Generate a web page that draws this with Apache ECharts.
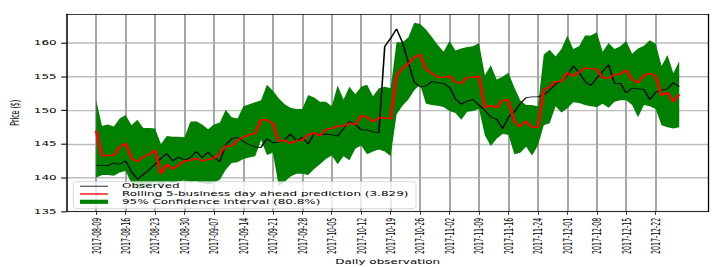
<!DOCTYPE html>
<html><head><meta charset="utf-8">
<script src="https://cdn.jsdelivr.net/npm/echarts@6/dist/echarts.min.js"></script>
<style>
html,body{margin:0;padding:0;background:#fff;overflow:hidden}
#wrap{width:719px;height:267px;overflow:hidden;position:relative;background:#fff}
#chart{width:719px;height:513px;transform:scaleY(0.5205);transform-origin:0 0;position:absolute;left:0;top:0}
</style></head>
<body><div id="wrap"><div id="chart"></div></div>
<script>
const dates = [
'2017-08-09','2017-08-10','2017-08-11','2017-08-14','2017-08-15','2017-08-16','2017-08-17','2017-08-18','2017-08-21','2017-08-22','2017-08-23','2017-08-24','2017-08-25','2017-08-28','2017-08-29','2017-08-30','2017-08-31',
'2017-09-01','2017-09-05','2017-09-06','2017-09-07','2017-09-08','2017-09-11','2017-09-12','2017-09-13','2017-09-14','2017-09-15','2017-09-18','2017-09-19','2017-09-20','2017-09-21','2017-09-22','2017-09-25','2017-09-26','2017-09-27','2017-09-28','2017-09-29',
'2017-10-02','2017-10-03','2017-10-04','2017-10-05','2017-10-06','2017-10-09','2017-10-10','2017-10-11','2017-10-12','2017-10-13','2017-10-16','2017-10-17','2017-10-18','2017-10-19','2017-10-20','2017-10-23','2017-10-24','2017-10-25','2017-10-26','2017-10-27','2017-10-30','2017-10-31',
'2017-11-01','2017-11-02','2017-11-03','2017-11-06','2017-11-07','2017-11-08','2017-11-09','2017-11-10','2017-11-13','2017-11-14','2017-11-15','2017-11-16','2017-11-17','2017-11-20','2017-11-21','2017-11-22','2017-11-24','2017-11-27','2017-11-28','2017-11-29','2017-11-30',
'2017-12-01','2017-12-04','2017-12-05','2017-12-06','2017-12-07','2017-12-08','2017-12-11','2017-12-12','2017-12-13','2017-12-14','2017-12-15','2017-12-18','2017-12-19','2017-12-20','2017-12-21','2017-12-22','2017-12-26','2017-12-27','2017-12-28','2017-12-29'
];
const observed = [
141.8,141.8,141.8,142.2,142.0,142.5,140.9,139.8,140.5,141.2,
142.0,142.9,143.6,142.5,143.1,142.6,143.0,143.9,143.0,143.8,
143.0,142.4,144.9,145.8,146.0,145.4,144.9,144.6,144.5,145.8,
145.2,145.3,145.6,146.5,145.5,146.0,145.0,146.6,146.4,146.5,
146.4,146.2,147.3,148.4,147.9,147.1,147.1,146.8,146.7,159.5,
160.7,162.1,160.1,157.1,154.2,153.5,153.6,154.3,154.1,154.0,
153.4,151.7,150.9,151.4,151.6,150.8,150.0,149.0,148.7,147.3,
149.0,149.8,151.0,151.9,152.0,152.0,152.3,153.0,153.9,154.3,
155.2,156.6,155.6,154.3,153.7,154.8,155.8,156.8,154.0,154.0,
152.6,153.3,153.2,153.1,151.6,152.7,153.0,153.2,154.1,153.5
];
const prediction = [
147.0,143.3,143.3,143.3,144.6,145.1,142.9,142.4,143.1,143.5,
144.1,140.6,142.0,141.3,141.9,142.5,142.6,142.9,142.5,142.7,
142.9,143.6,144.7,144.7,145.6,146.0,146.4,146.6,148.6,148.6,
148.1,145.4,145.6,145.1,145.5,145.6,146.4,146.7,146.2,147.2,
147.3,147.7,147.7,148.1,147.9,149.2,149.0,148.3,148.9,148.9,
148.7,155.1,156.3,156.9,157.9,158.3,156.1,155.5,154.9,154.9,
155.1,154.2,154.0,154.9,154.9,155.1,150.4,150.7,150.4,151.5,
151.5,148.3,147.6,148.4,147.5,147.5,153.1,153.5,154.3,154.3,
155.6,155.1,155.7,156.3,156.2,156.1,154.8,154.8,155.3,155.4,
156.0,154.6,154.1,155.2,155.5,155.1,152.2,152.7,151.3,152.4
];
const ciUpper = [
151.5,147.7,147.9,147.6,148.8,149.3,147.8,148.6,147.4,147.4,
147.3,145.0,146.2,146.1,146.1,146.0,148.3,148.4,147.9,147.2,
147.9,148.2,150.1,149.0,148.8,150.6,150.9,151.2,151.5,153.8,
152.9,151.8,150.9,150.4,150.2,150.2,152.3,151.9,151.3,151.3,
150.6,153.7,151.6,153.5,152.4,153.5,153.8,152.1,153.3,153.5,
153.3,160.1,160.1,160.8,163.0,162.8,162.0,160.9,159.7,158.7,
160.3,158.9,159.2,159.4,159.5,160.0,155.2,156.7,154.6,155.0,
155.6,153.4,151.5,150.8,150.8,150.6,158.3,159.0,158.0,159.1,
161.1,159.1,159.5,161.1,161.1,161.6,158.7,160.0,159.1,159.5,
160.3,158.4,159.2,159.6,160.4,159.9,156.6,158.2,155.5,157.3
];
const ciLower = [
140.0,140.4,140.4,140.3,140.8,141.0,139.2,138.3,138.6,138.8,
139.4,138.5,139.4,139.2,139.5,139.6,139.4,139.5,139.2,139.0,
139.3,139.7,141.2,142.2,142.3,142.8,143.0,143.2,145.6,143.4,
143.7,138.8,139.4,140.2,140.6,140.6,140.4,141.3,142.0,142.8,
143.3,142.0,143.2,142.6,144.3,144.8,143.5,143.9,144.2,143.9,
143.2,149.4,150.7,151.6,153.0,153.8,151.0,150.8,150.7,150.5,
149.9,149.6,148.6,149.8,149.9,150.2,146.3,144.7,145.8,146.5,
146.4,143.5,143.7,144.6,143.3,144.8,147.8,148.1,150.6,149.7,
150.3,151.2,151.1,150.8,150.6,150.5,151.0,150.4,151.3,151.5,
151.5,150.8,149.0,150.8,150.6,150.2,147.8,147.5,147.3,147.5
];
const yTicks = [135, 140, 145, 150, 155, 160];
const seriesNames = ['Observed', 'Rolling 5-business day ahead prediction (3.829)', '95% Confidence interval (80.8%)'];
const tickEvery = 5;
const pad = 5;
const yMin = 135, yMax = 164.3;

const FONT = 'DejaVu Sans';
const cats = [];
for (let i = -pad; i < dates.length + pad; i++) cats.push(i >= 0 && i < dates.length ? dates[i] : ('~' + i));
const padArr = a => [...Array(pad).fill(null), ...a, ...Array(pad).fill(null)];
const bandWidth = ciUpper.map((u, i) => +(u - ciLower[i]).toFixed(2));
const onTick = idx => { const k = idx - pad; return k >= 0 && k < dates.length && k % tickEvery === 0; };
const frameAxis = {axisTick: {show: false}, axisLabel: {show: false}, splitLine: {show: false},
  axisLine: {show: true, onZero: false, lineStyle: {color: '#000', width: 1.3}}};

const chart = echarts.init(document.getElementById('chart'), null, {renderer: 'svg', width: 719, height: 513});
chart.setOption({
  animation: false,
  grid: {left: 66.7, right: 10.3, top: 26.9, bottom: 104.7, show: false},
  legend: {
    orient: 'vertical', left: 73.3, top: 349.1,
    data: [
      {name: seriesNames[0], icon: 'path://M0,0H28V1.6H0Z', itemStyle: {color: '#000'}},
      {name: seriesNames[1], icon: 'path://M0,0H28V2.6H0Z', itemStyle: {color: '#ff0000'}},
      {name: seriesNames[2], icon: 'rect', itemStyle: {color: '#008000'}}
    ],
    itemWidth: 28, itemHeight: 8, itemGap: 3,
    padding: [2.6, 7, 7, 6.7],
    backgroundColor: 'rgba(255,255,255,0.8)', borderColor: '#cccccc', borderWidth: 1, borderRadius: 4,
    textStyle: {fontFamily: FONT, fontSize: 12, color: '#000', padding: [0, 0, 0, 9]},
    selectedMode: false
  },
  xAxis: [{
    type: 'category', data: cats, boundaryGap: false, position: 'bottom',
    axisLine: {onZero: false, lineStyle: {color: '#000', width: 1.3}},
    axisTick: {show: true, interval: onTick, length: 6.5, lineStyle: {color: '#000', width: 1}},
    axisLabel: {interval: onTick, rotate: 90, margin: 12, fontFamily: FONT, fontSize: 12, color: '#000'},
    splitLine: {show: true, interval: onTick, lineStyle: {color: '#a6a6a6', width: 2}},
    name: 'Daily observation', nameLocation: 'middle', nameGap: 82,
    nameTextStyle: {fontFamily: FONT, fontSize: 12, color: '#000'}
  }, Object.assign({type: 'category', data: cats, boundaryGap: false, position: 'top'}, frameAxis)],
  yAxis: [{
    type: 'value', min: yMin, max: yMax, interval: 5, position: 'left',
    axisLine: {show: true, onZero: false, lineStyle: {color: '#000', width: 1.5}},
    axisTick: {show: true, length: 5.5, customValues: yTicks, lineStyle: {color: '#000', width: 2}},
    axisLabel: {customValues: yTicks, margin: 10, fontFamily: FONT, fontSize: 12, color: '#000',
      formatter: v => yTicks.includes(v) ? String(v) : ''},
    splitLine: {show: true, lineStyle: {color: '#bdbdbd', width: 2.8}},
    name: 'Price ($)', nameLocation: 'middle', nameGap: 46,
    nameTextStyle: {fontFamily: FONT, fontSize: 12, color: '#000'}
  }, Object.assign({type: 'value', min: yMin, max: yMax, interval: 5, position: 'right'}, frameAxis)],
  series: [
    {name: 'ciBase', type: 'line', stack: 'ci', data: padArr(ciLower), symbol: 'none', showSymbol: false, silent: true,
      lineStyle: {width: 0, opacity: 0}, z: 2},
    {name: seriesNames[2], type: 'line', stack: 'ci', data: padArr(bandWidth), symbol: 'none', showSymbol: false, silent: true,
      lineStyle: {width: 0, opacity: 0}, itemStyle: {color: '#008000'}, areaStyle: {color: '#008000', opacity: 1}, z: 2},
    {name: seriesNames[0], type: 'line', data: padArr(observed), symbol: 'none', showSymbol: false,
      lineStyle: {color: '#000', width: 1.6}, itemStyle: {color: '#000'}, z: 3},
    {name: seriesNames[1], type: 'line', data: padArr(prediction), symbol: 'none', showSymbol: false,
      lineStyle: {color: '#ff0000', width: 2.8}, itemStyle: {color: '#ff0000'}, z: 4}
  ]
});
</script>
</body></html>
